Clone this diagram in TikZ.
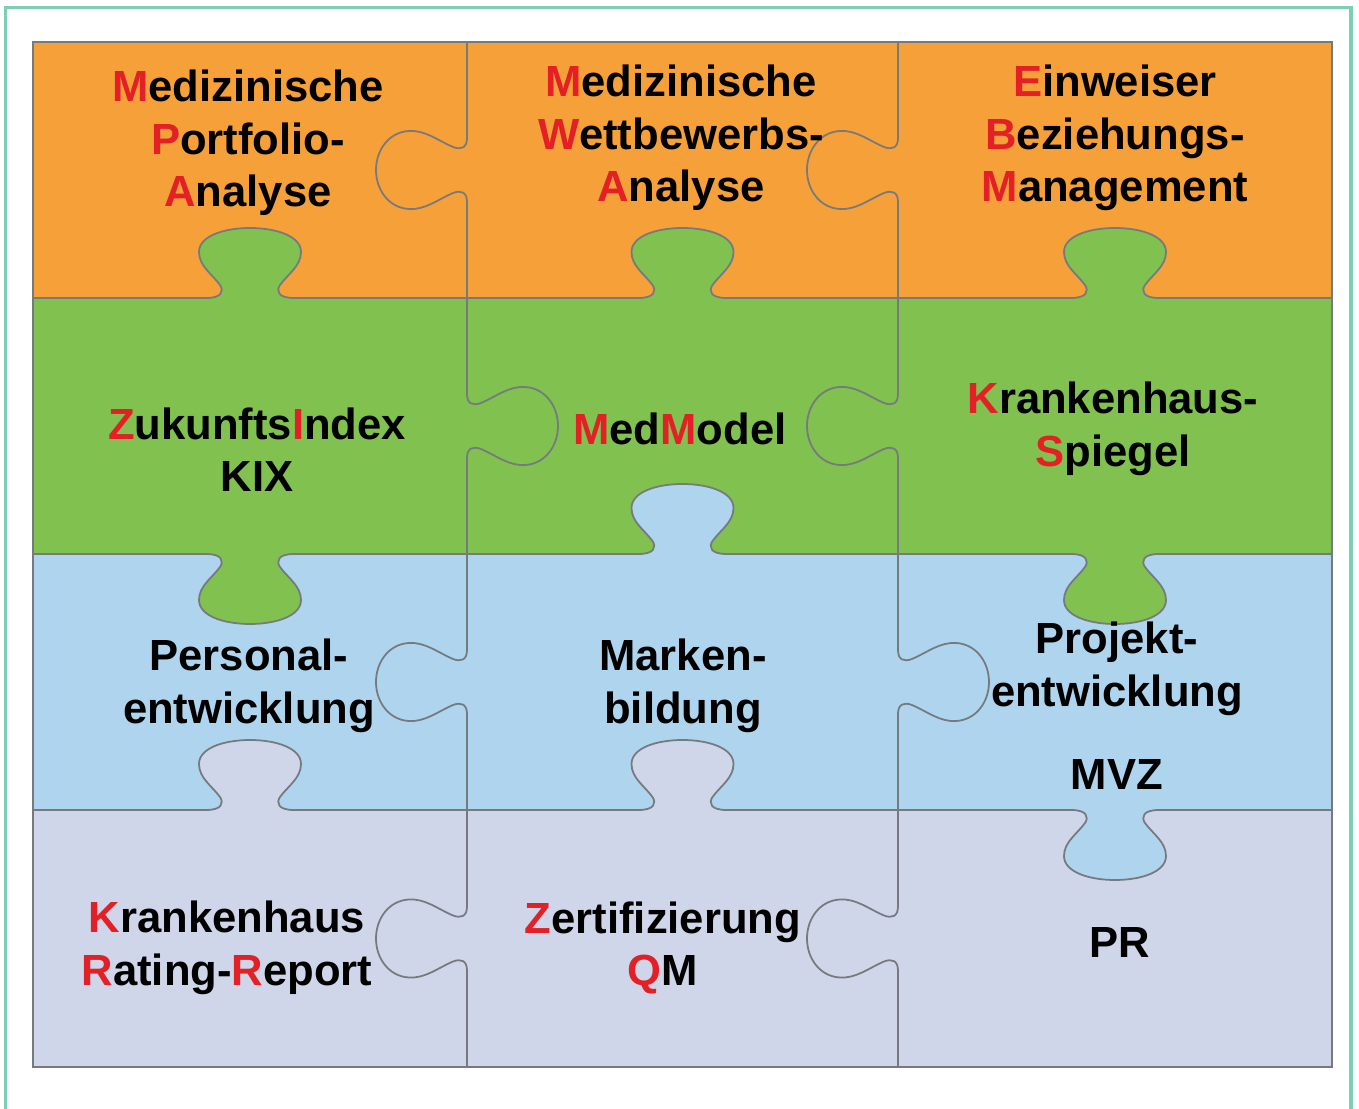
\documentclass[tikz,border=0pt]{standalone}
\usepackage{fontspec}
\setmainfont{Liberation Sans}
\usepackage{xcolor}

\definecolor{pieceorange}{RGB}{246,160,57}
\definecolor{piecegreen}{RGB}{128,193,80}
\definecolor{pieceblue}{RGB}{174,213,237}
\definecolor{piecelilac}{RGB}{208,214,233}
\definecolor{seamgray}{RGB}{118,121,126}
\definecolor{capred}{RGB}{226,32,38}
\definecolor{framegreen}{RGB}{126,206,182}

\tikzset{
  seam/.style={draw=seamgray, line width=0.5pt},
  piecetext/.style={font=\fontsize{12.4}{14.9}\selectfont\bfseries, align=center, inner sep=0pt}
}

\newcommand{\rl}[1]{\textcolor{capred}{#1}}

% tab across a row border: x, y, 1 = up / -1 = down, colour
\newcommand{\htab}[4]{%
  \begin{scope}[shift={(#1,#2)},yscale=#3]
    \fill[#4] (-44,0) .. controls (-28,0) and (-26,-7) .. (-30,-13)
      .. controls (-38,-24) and (-51,-32) .. (-51,-46)
      .. controls (-51,-62) and (-26,-70) .. (0,-70)
      .. controls (26,-70) and (51,-62) .. (51,-46)
      .. controls (51,-32) and (38,-24) .. (30,-13)
      .. controls (26,-7) and (28,0) .. (44,0) -- cycle;
    \draw[seam] (-217,0) -- (-44,0) .. controls (-28,0) and (-26,-7) .. (-30,-13)
      .. controls (-38,-24) and (-51,-32) .. (-51,-46)
      .. controls (-51,-62) and (-26,-70) .. (0,-70)
      .. controls (26,-70) and (51,-62) .. (51,-46)
      .. controls (51,-32) and (38,-24) .. (30,-13)
      .. controls (26,-7) and (28,0) .. (44,0) -- (217,0);
  \end{scope}}

% tab across a column border: x, y, 1 = right / -1 = left
\newcommand{\vtab}[3]{%
  \begin{scope}[shift={(#1,#2)},xscale=#3]
    \draw[seam] (0,-128) -- (0,-32) .. controls (0,-22) and (6,-20) .. (14,-23)
      .. controls (30,-30) and (42,-40) .. (58,-39)
      .. controls (78,-38) and (91,-20) .. (91,0)
      .. controls (91,20) and (78,38) .. (58,39)
      .. controls (42,40) and (30,30) .. (14,23)
      .. controls (6,20) and (0,22) .. (0,32) -- (0,128);
  \end{scope}}

\begin{document}
\begin{tikzpicture}[x=0.01cm,y=-0.01cm]
    \useasboundingbox (0,0) rectangle (1359,1109);

    %% frame
    \draw[framegreen, line width=0.9pt] (5.5,1109) -- (5.5,7.5) -- (1351,7.5) -- (1351,1109);

    %% rows
    \fill[pieceorange] (33,42)  rectangle (1332,298);
    \fill[piecegreen]  (33,298) rectangle (1332,554);
    \fill[pieceblue]   (33,554) rectangle (1332,810);
    \fill[piecelilac]  (33,810) rectangle (1332,1067);

    % Row 1 / Row 2
    \htab{250}{298}{1}{piecegreen}
    \htab{682.5}{298}{1}{piecegreen}
    \htab{1115}{298}{1}{piecegreen}

    % Row 2 / Row 3
    \htab{250}{554}{-1}{piecegreen}
    \htab{682.5}{554}{1}{pieceblue}
    \htab{1115}{554}{-1}{piecegreen}

    % Row 3 / Row 4
    \htab{250}{810}{1}{piecelilac}
    \htab{682.5}{810}{1}{piecelilac}
    \htab{1115}{810}{-1}{pieceblue}

    % Columns
    \vtab{467}{170}{-1}
    \vtab{898}{170}{-1}
    \vtab{467}{426}{1}
    \vtab{898}{426}{-1}
    \vtab{467}{682}{-1}
    \vtab{898}{682}{1}
    \vtab{467}{938.5}{-1}
    \vtab{898}{938.5}{-1}

    \draw[seam] (33,42) rectangle (1332,1067);

    %% texts
    \node[piecetext] (portfolio)  at (248,143)   {\rl{M}edizinische\\\rl{P}ortfolio-\\\rl{A}nalyse};
    \node[piecetext] (wettbewerb) at (681,138)   {\rl{M}edizinische\\\rl{W}ettbewerbs-\\\rl{A}nalyse};
    \node[piecetext] (einweiser)  at (1115,138)  {\rl{E}inweiser\\\rl{B}eziehungs-\\\rl{M}anagement};
    \node[piecetext] (kix)        at (257,450)   {\rl{Z}ukunfts\rl{I}ndex\\KIX};
    \node[piecetext] (medmodel)   at (680,429)   {\rl{M}ed\rl{M}odel};
    \node[piecetext] (spiegel)    at (1113,429)  {\rl{K}rankenhaus-\\\rl{S}piegel};
    \node[piecetext] (personal)   at (249,686)   {Personal-\\entwicklung};
    \node[piecetext] (marken)     at (683,686)   {Marken-\\bildung};
    \node[piecetext] (projekt)    at (1117,669)  {Projekt-\\entwicklung};
    \node[piecetext] (mvz)        at (1117,774)  {MVZ};
    \node[piecetext] (rating)     at (227,948)   {\rl{K}rankenhaus\\\rl{R}ating-\rl{R}eport};
    \node[piecetext] (zert)       at (663,948)   {\rl{Z}ertifizierung\\\rl{Q}M};
    \node[piecetext] (pr)         at (1120,942)  {PR};

\end{tikzpicture}
\end{document}
